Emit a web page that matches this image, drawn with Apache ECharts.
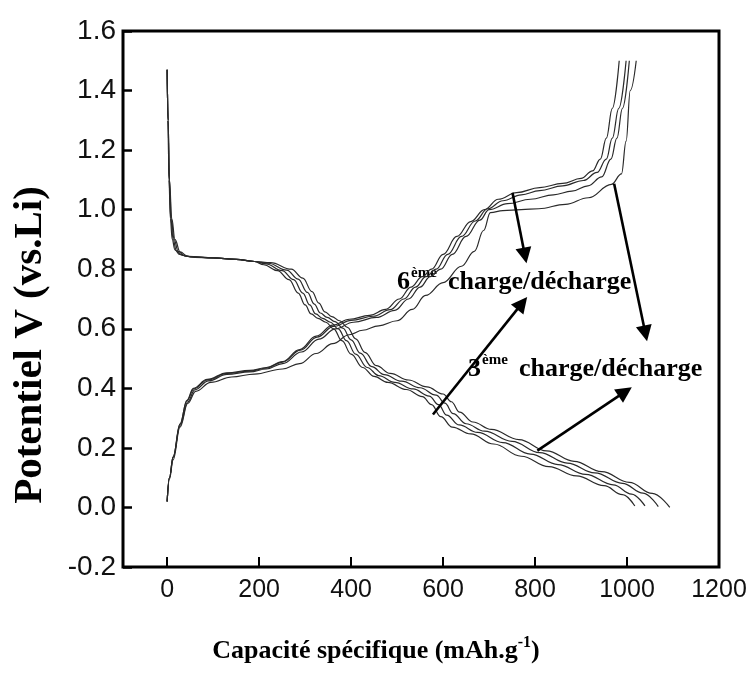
<!DOCTYPE html>
<html>
<head>
<meta charset="utf-8">
<script src="https://cdn.jsdelivr.net/npm/echarts@6/dist/echarts.min.js"></script>
<style>
  html, body { margin: 0; padding: 0; background: #fff; }
  #chart { width: 753px; height: 675px; }
</style>
</head>
<body>
<div id="chart"></div>
<script>
// Galvanostatic cycling: specific capacity (mAh/g) vs potential (V vs Li)
const xTicks = [0, 200, 400, 600, 800, 1000, 1200];

// Discharge (lithiation) curves, four cycles
const discharge1 = [[0,1.47],[2,1.3],[4,1.1],[7,0.97],[11,0.9],[17,0.865],[27,0.85],[45,0.843],[100,0.838],[150,0.833],[190,0.826],[210,0.815],[240,0.795],[265,0.765],[285,0.72],[300,0.68],[313,0.65],[328,0.635],[345,0.622],[362,0.6],[380,0.56],[400,0.515],[425,0.47],[450,0.44],[480,0.42],[520,0.396],[555,0.372],[575,0.345],[595,0.305],[620,0.27],[660,0.247],[710,0.213],[770,0.172],[830,0.137],[890,0.106],[950,0.073],[990,0.043],[1017,0.005]];
const discharge2 = [[0,1.47],[2,1.3],[4,1.1],[8,0.97],[13,0.9],[20,0.862],[32,0.847],[50,0.842],[100,0.838],[150,0.833],[190,0.826],[215,0.818],[250,0.795],[275,0.765],[295,0.72],[310,0.68],[323,0.65],[338,0.635],[355,0.622],[372,0.6],[390,0.56],[410,0.515],[435,0.47],[460,0.443],[495,0.42],[535,0.398],[570,0.374],[590,0.345],[608,0.31],[635,0.277],[675,0.252],[730,0.218],[790,0.179],[850,0.144],[910,0.111],[970,0.076],[1010,0.045],[1039,0.005]];
const discharge3 = [[0,1.47],[2,1.3],[5,1.1],[9,0.97],[15,0.9],[24,0.86],[38,0.845],[55,0.841],[100,0.838],[150,0.833],[190,0.826],[220,0.82],[260,0.797],[285,0.767],[305,0.722],[320,0.683],[333,0.653],[348,0.638],[365,0.624],[382,0.602],[400,0.563],[420,0.518],[445,0.473],[472,0.446],[510,0.424],[550,0.402],[585,0.377],[604,0.35],[622,0.315],[650,0.281],[690,0.256],[750,0.222],[810,0.184],[870,0.149],[930,0.116],[990,0.081],[1035,0.048],[1068,0.003]];
const discharge4 = [[0,1.47],[2,1.3],[5,1.1],[10,0.97],[17,0.9],[28,0.858],[45,0.843],[60,0.84],[100,0.838],[150,0.833],[190,0.826],[225,0.822],[270,0.8],[295,0.77],[315,0.725],[330,0.686],[343,0.657],[358,0.641],[375,0.627],[392,0.605],[410,0.566],[430,0.521],[455,0.476],[485,0.45],[525,0.428],[565,0.405],[600,0.381],[618,0.355],[636,0.32],[665,0.287],[705,0.262],[765,0.228],[825,0.19],[885,0.155],[945,0.12],[1005,0.084],[1055,0.047],[1093,0.0]];

// Charge (delithiation) curves, four cycles
const charge1 = [[0,0.02],[5,0.1],[13,0.17],[28,0.28],[43,0.36],[57,0.4],[87,0.43],[130,0.452],[180,0.46],[216,0.47],[251,0.49],[288,0.53],[324,0.575],[360,0.612],[396,0.632],[440,0.645],[475,0.665],[505,0.7],[530,0.74],[555,0.775],[575,0.8],[600,0.85],[630,0.91],[660,0.96],[690,1.0],[720,1.035],[760,1.057],[810,1.074],[860,1.088],[900,1.105],[925,1.13],[942,1.17],[955,1.24],[968,1.34],[983,1.5]];
const charge2 = [[0,0.02],[5,0.1],[13,0.17],[28,0.28],[43,0.358],[58,0.398],[88,0.428],[130,0.45],[180,0.458],[216,0.468],[251,0.488],[290,0.528],[326,0.572],[362,0.608],[400,0.628],[448,0.642],[485,0.664],[515,0.7],[540,0.74],[563,0.775],[585,0.8],[610,0.85],[640,0.91],[670,0.962],[697,1.003],[730,1.03],[770,1.05],[810,1.064],[860,1.08],[905,1.098],[935,1.125],[955,1.17],[968,1.24],[982,1.34],[998,1.5]];
const charge3 = [[0,0.02],[5,0.1],[13,0.168],[28,0.275],[45,0.355],[60,0.395],[90,0.425],[130,0.447],[180,0.455],[216,0.465],[251,0.483],[292,0.522],[330,0.565],[366,0.6],[405,0.622],[455,0.638],[495,0.662],[525,0.7],[550,0.74],[572,0.775],[595,0.8],[620,0.85],[650,0.91],[680,0.965],[700,1.0],[740,1.02],[790,1.035],[840,1.05],[880,1.062],[915,1.08],[945,1.11],[965,1.17],[978,1.24],[990,1.34],[1005,1.5]];
const charge4 = [[0,0.02],[5,0.095],[13,0.16],[28,0.27],[45,0.35],[62,0.39],[95,0.42],[140,0.438],[190,0.448],[251,0.465],[288,0.483],[324,0.517],[360,0.55],[396,0.58],[425,0.595],[460,0.61],[500,0.627],[533,0.665],[562,0.712],[600,0.755],[640,0.81],[668,0.86],[688,0.93],[703,0.99],[730,0.997],[770,1.0],[808,1.003],[866,1.018],[916,1.04],[966,1.085],[988,1.12],[998,1.23],[1007,1.4],[1020,1.5]];

// Arrows pointing from the curves to the cycle labels: [from, to] in data units
const arrows = [
  [[751, 1.057], [778, 0.846]],
  [[972, 1.087], [1040, 0.584]],
  [[578, 0.312], [772, 0.686]],
  [[805, 0.191], [996, 0.389]]
];

const curves = [discharge1, discharge2, discharge3, discharge4, charge1, charge2, charge3, charge4];

const serif = "'Liberation Serif', 'Times New Roman', serif";
const sans = "'Liberation Sans', Arial, sans-serif";

const chart = echarts.init(document.getElementById('chart'), null, { renderer: 'canvas' });

const series = curves.map((d, i) => ({
  type: 'line',
  name: (i < 4 ? 'décharge ' : 'charge ') + (i % 4 + 1),
  data: d,
  showSymbol: false,
  symbol: 'none',
  smooth: 0.4,
  smoothMonotone: 'x',
  lineStyle: { color: '#2a2a2a', width: 1.2 },
  silent: true,
  z: 2
}));

series.push({
  type: 'line',
  name: 'flèches',
  data: [],
  silent: true,
  itemStyle: { color: '#000' },
  markLine: {
    silent: true,
    symbol: ['none', 'triangle'],
    symbolSize: 16,
    label: { show: false },
    itemStyle: { color: '#000' },
    lineStyle: { color: '#000', width: 2.6, type: 'solid' },
    emphasis: { disabled: true },
    data: arrows.map(a => [{ coord: a[0] }, { coord: a[1] }])
  }
});

// Cycle label: number, raised "ème", then the words
const cycleLabel = (x, y, num) => ([
  { type: 'text', left: x, top: y, style: { text: num, font: 'bold 26px ' + serif, fill: '#000' } },
  { type: 'text', left: x + 14, top: y - 3, style: { text: 'ème', font: 'bold 15px ' + serif, fill: '#000' } },
  { type: 'text', left: x + 51, top: y, style: { text: 'charge/décharge', font: 'bold 26px ' + serif, fill: '#000' } }
]);

chart.setOption({
  animation: false,
  backgroundColor: '#fff',
  grid: {
    left: 123, right: 34, top: 31, bottom: 108,
    show: true, borderColor: '#000', borderWidth: 3
  },
  xAxis: {
    type: 'value',
    min: -96, max: 1200,
    name: '{b|Capacité spécifique (mAh.g}{s|-1}{b|)}',
    nameLocation: 'middle',
    nameGap: 68,
    nameTextStyle: {
      padding: [0, 90, 0, 0],
      rich: {
        b: { fontFamily: serif, fontWeight: 'bold', fontSize: 26, color: '#000', lineHeight: 32 },
        s: { fontFamily: serif, fontWeight: 'bold', fontSize: 16, color: '#000', lineHeight: 16, verticalAlign: 'top' }
      }
    },
    axisLine: { show: false, onZero: false },
    splitLine: { show: false },
    axisTick: { show: true, inside: true, length: 10, customValues: xTicks.slice(0, 6), lineStyle: { color: '#000', width: 2 } },
    axisLabel: { customValues: xTicks, margin: 11, fontFamily: sans, fontSize: 25, color: '#111', formatter: v => String(v) }
  },
  yAxis: {
    type: 'value',
    min: -0.2, max: 1.6, interval: 0.2,
    name: 'Potentiel V (vs.Li)',
    nameLocation: 'middle',
    nameGap: 72,
    nameTextStyle: {
      fontFamily: serif, fontWeight: 'bold', fontSize: 41, color: '#000',
      padding: [0, 92, 0, 0]
    },
    axisLine: { show: false, onZero: false },
    splitLine: { show: false },
    axisTick: { show: true, inside: true, length: 9, lineStyle: { color: '#000', width: 2.5 } },
    axisLabel: { margin: 7, fontFamily: sans, fontSize: 28, color: '#111', formatter: v => v.toFixed(1) }
  },
  graphic: [
    ...cycleLabel(397, 269, '6'),
    ...cycleLabel(468, 356, '3')
  ],
  series: series
});
</script>
</body>
</html>
